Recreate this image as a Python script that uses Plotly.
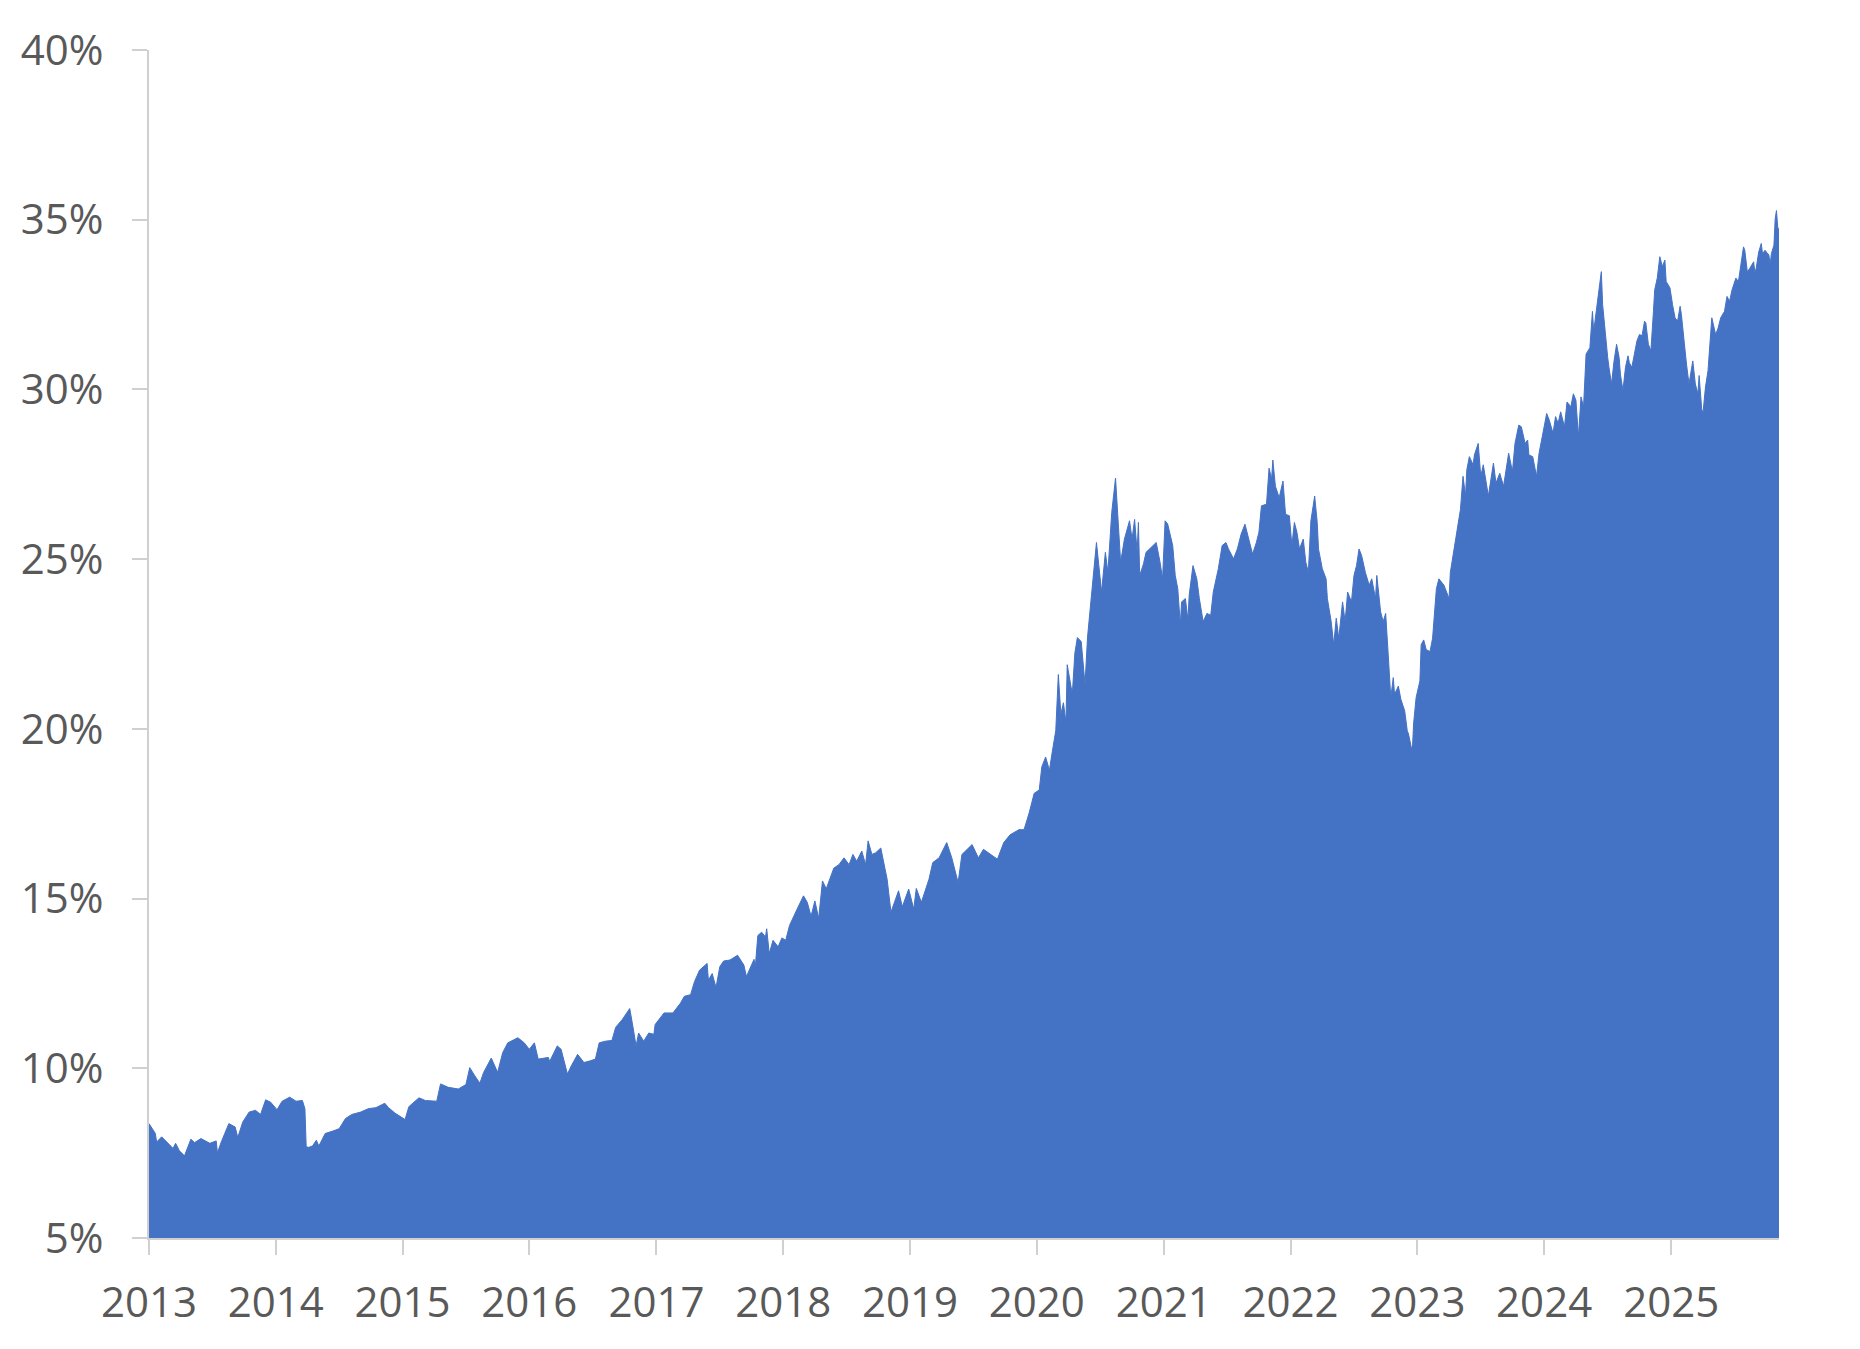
import pandas as pd
import plotly.graph_objects as go

# Share (%) over time (decimal years)
years = [
    2013.00, 2013.05, 2013.06, 2013.10, 2013.19, 2013.21, 2013.24, 2013.28, 2013.33, 2013.36,
    2013.41, 2013.48, 2013.53, 2013.54, 2013.57, 2013.63, 2013.68, 2013.70, 2013.74, 2013.79,
    2013.84, 2013.88, 2013.92, 2013.96, 2014.01, 2014.05, 2014.11, 2014.16, 2014.21, 2014.23,
    2014.24, 2014.26, 2014.29, 2014.32, 2014.34, 2014.39, 2014.45, 2014.50, 2014.55, 2014.60,
    2014.67, 2014.73, 2014.79, 2014.86, 2014.89, 2014.94, 2015.02, 2015.05, 2015.13, 2015.18,
    2015.27, 2015.30, 2015.36, 2015.44, 2015.50, 2015.53, 2015.57, 2015.61, 2015.64, 2015.70,
    2015.75, 2015.79, 2015.83, 2015.91, 2015.96, 2016.00, 2016.04, 2016.07, 2016.15, 2016.16,
    2016.22, 2016.25, 2016.30, 2016.33, 2016.38, 2016.43, 2016.48, 2016.52, 2016.55, 2016.60,
    2016.65, 2016.68, 2016.73, 2016.79, 2016.81, 2016.84, 2016.86, 2016.90, 2016.94, 2016.98,
    2016.99, 2017.06, 2017.13, 2017.19, 2017.22, 2017.27, 2017.30, 2017.34, 2017.40, 2017.41,
    2017.44, 2017.47, 2017.50, 2017.53, 2017.58, 2017.64, 2017.69, 2017.71, 2017.77, 2017.78,
    2017.80, 2017.83, 2017.86, 2017.87, 2017.89, 2017.92, 2017.96, 2017.99, 2018.02, 2018.05,
    2018.11, 2018.16, 2018.19, 2018.22, 2018.25, 2018.28, 2018.31, 2018.34, 2018.37, 2018.40,
    2018.44, 2018.48, 2018.52, 2018.55, 2018.58, 2018.62, 2018.65, 2018.67, 2018.70, 2018.73,
    2018.77, 2018.82, 2018.85, 2018.91, 2018.94, 2018.99, 2019.03, 2019.05, 2019.09, 2019.15,
    2019.18, 2019.23, 2019.29, 2019.33, 2019.38, 2019.41, 2019.49, 2019.54, 2019.58, 2019.64,
    2019.69, 2019.74, 2019.79, 2019.86, 2019.90, 2019.94, 2019.98, 2020.02, 2020.04, 2020.07,
    2020.10, 2020.12, 2020.15, 2020.17, 2020.19, 2020.21, 2020.23, 2020.24, 2020.28, 2020.30,
    2020.32, 2020.35, 2020.38, 2020.40, 2020.43, 2020.47, 2020.51, 2020.54, 2020.56, 2020.59,
    2020.62, 2020.64, 2020.66, 2020.69, 2020.73, 2020.75, 2020.77, 2020.79, 2020.80, 2020.81,
    2020.84, 2020.86, 2020.91, 2020.94, 2020.97, 2020.99, 2021.01, 2021.03, 2021.07, 2021.09,
    2021.11, 2021.13, 2021.14, 2021.17, 2021.19, 2021.20, 2021.23, 2021.26, 2021.28, 2021.31,
    2021.34, 2021.37, 2021.39, 2021.43, 2021.46, 2021.49, 2021.51, 2021.55, 2021.58, 2021.61,
    2021.64, 2021.66, 2021.70, 2021.73, 2021.75, 2021.77, 2021.81, 2021.83, 2021.85, 2021.86,
    2021.88, 2021.91, 2021.94, 2021.96, 2021.99, 2022.01, 2022.03, 2022.05, 2022.07, 2022.10,
    2022.12, 2022.14, 2022.16, 2022.19, 2022.21, 2022.22, 2022.25, 2022.28, 2022.29, 2022.32,
    2022.34, 2022.36, 2022.38, 2022.41, 2022.43, 2022.45, 2022.48, 2022.50, 2022.52, 2022.54,
    2022.56, 2022.59, 2022.62, 2022.64, 2022.67, 2022.68, 2022.71, 2022.73, 2022.75, 2022.77,
    2022.79, 2022.81, 2022.82, 2022.85, 2022.87, 2022.90, 2022.92, 2022.93, 2022.96, 2022.97,
    2022.99, 2023.02, 2023.03, 2023.05, 2023.07, 2023.10, 2023.12, 2023.15, 2023.17, 2023.21,
    2023.25, 2023.26, 2023.28, 2023.31, 2023.34, 2023.36, 2023.38, 2023.39, 2023.41, 2023.44,
    2023.45, 2023.48, 2023.50, 2023.52, 2023.56, 2023.60, 2023.62, 2023.65, 2023.68, 2023.72,
    2023.75, 2023.77, 2023.80, 2023.82, 2023.85, 2023.87, 2023.88, 2023.91, 2023.94, 2023.96,
    2023.99, 2024.02, 2024.04, 2024.07, 2024.09, 2024.11, 2024.13, 2024.16, 2024.18, 2024.21,
    2024.23, 2024.25, 2024.27, 2024.29, 2024.31, 2024.32, 2024.33, 2024.36, 2024.38, 2024.39,
    2024.41, 2024.42, 2024.44, 2024.45, 2024.46, 2024.48, 2024.50, 2024.51, 2024.53, 2024.55,
    2024.57, 2024.59, 2024.60, 2024.62, 2024.64, 2024.66, 2024.67, 2024.69, 2024.71, 2024.73,
    2024.75, 2024.77, 2024.79, 2024.80, 2024.82, 2024.84, 2024.86, 2024.87, 2024.89, 2024.91,
    2024.93, 2024.95, 2024.96, 2024.99, 2025.01, 2025.03, 2025.05, 2025.07, 2025.08, 2025.10,
    2025.12, 2025.14, 2025.16, 2025.17, 2025.19, 2025.21, 2025.22, 2025.24, 2025.25, 2025.27,
    2025.29, 2025.31, 2025.32, 2025.35, 2025.37, 2025.39, 2025.42, 2025.44, 2025.46, 2025.48,
    2025.51, 2025.53, 2025.55, 2025.57, 2025.58, 2025.60, 2025.62, 2025.65, 2025.66, 2025.67,
    2025.69, 2025.71, 2025.72, 2025.74, 2025.75, 2025.77, 2025.78, 2025.79, 2025.81, 2025.82,
    2025.83, 2025.84, 2025.85,
]

share_pct = [
    8.37, 8.08, 7.83, 7.98, 7.64, 7.79, 7.57, 7.42, 7.91, 7.81,
    7.93, 7.79, 7.86, 7.51, 7.83, 8.37, 8.27, 7.96, 8.42, 8.71,
    8.76, 8.64, 9.07, 9.00, 8.78, 9.03, 9.15, 9.03, 9.05, 8.81,
    7.69, 7.67, 7.71, 7.88, 7.71, 8.08, 8.15, 8.22, 8.52, 8.64,
    8.71, 8.81, 8.84, 8.97, 8.84, 8.68, 8.49, 8.87, 9.13, 9.05,
    9.03, 9.54, 9.44, 9.39, 9.52, 10.02, 9.78, 9.56, 9.88, 10.30,
    9.88, 10.46, 10.75, 10.90, 10.75, 10.56, 10.75, 10.27, 10.32, 10.20,
    10.66, 10.56, 9.83, 10.07, 10.41, 10.17, 10.22, 10.27, 10.75, 10.80,
    10.82, 11.21, 11.43, 11.76, 11.34, 10.66, 11.04, 10.80, 11.04, 11.00,
    11.29, 11.63, 11.63, 11.92, 12.12, 12.17, 12.55, 12.89, 13.09, 12.60,
    12.79, 12.38, 12.99, 13.16, 13.19, 13.33, 13.04, 12.70, 13.21, 12.99,
    13.91, 14.01, 13.87, 14.11, 13.38, 13.77, 13.58, 13.84, 13.77, 14.21,
    14.69, 15.08, 14.89, 14.48, 14.93, 14.42, 15.52, 15.29, 15.60, 15.90,
    16.00, 16.20, 16.00, 16.30, 16.10, 16.40, 16.00, 16.70, 16.30, 16.35,
    16.49, 15.57, 14.60, 15.23, 14.76, 15.28, 14.69, 15.30, 14.89, 15.57,
    16.06, 16.20, 16.65, 16.20, 15.47, 16.30, 16.59, 16.20, 16.45, 16.30,
    16.16, 16.65, 16.88, 17.03, 17.03, 17.52, 18.10, 18.20, 18.88, 19.17,
    18.78, 19.27, 19.95, 21.60, 20.43, 20.77, 20.19, 21.89, 21.02, 22.23,
    22.69, 22.57, 21.31, 22.71, 23.84, 25.49, 24.03, 25.20, 24.61, 26.37,
    27.39, 26.17, 24.91, 25.59, 26.13, 25.59, 26.17, 25.20, 26.08, 24.52,
    24.86, 25.20, 25.40, 25.49, 24.91, 24.42, 26.13, 26.04, 25.40, 24.52,
    24.13, 23.06, 23.74, 23.84, 23.21, 23.94, 24.81, 24.42, 23.84, 23.16,
    23.40, 23.35, 24.03, 24.72, 25.40, 25.49, 25.30, 25.01, 25.30, 25.74,
    26.03, 25.74, 25.15, 25.49, 25.79, 26.57, 26.62, 27.68, 27.36, 27.92,
    27.15, 26.81, 27.30, 26.32, 26.28, 25.40, 26.08, 25.79, 25.30, 25.59,
    24.91, 24.61, 26.13, 26.86, 26.08, 25.30, 24.72, 24.42, 23.84, 23.16,
    22.48, 23.26, 22.67, 23.74, 23.16, 24.03, 23.74, 24.52, 24.81, 25.30,
    25.11, 24.61, 24.23, 24.42, 23.84, 24.52, 23.45, 23.16, 23.40, 22.19,
    20.92, 21.51, 21.02, 21.26, 20.87, 20.53, 19.95, 19.85, 19.31, 20.14,
    20.92, 21.41, 22.48, 22.62, 22.33, 22.28, 22.67, 24.13, 24.42, 24.23,
    23.84, 24.61, 25.11, 25.79, 26.47, 27.44, 26.86, 27.63, 28.02, 27.78,
    28.07, 28.41, 27.44, 27.78, 26.86, 27.83, 27.24, 27.53, 27.15, 28.12,
    27.58, 28.41, 28.95, 28.90, 28.41, 28.51, 28.07, 28.02, 27.44, 28.12,
    28.66, 29.29, 29.10, 28.71, 29.20, 29.00, 29.34, 28.90, 29.63, 29.49,
    29.87, 29.68, 28.61, 29.78, 29.49, 30.41, 31.04, 31.23, 32.30, 31.71,
    32.21, 32.60, 33.18, 33.47, 32.50, 31.62, 30.94, 30.65, 30.16, 30.84,
    31.33, 30.94, 30.45, 29.97, 30.65, 30.99, 30.79, 30.65, 31.09, 31.43,
    31.62, 31.58, 32.01, 31.96, 31.33, 31.14, 32.30, 32.94, 33.28, 33.91,
    33.62, 33.81, 33.18, 32.99, 32.50, 32.11, 32.01, 32.45, 32.21, 31.43,
    30.75, 30.16, 30.65, 30.84, 30.16, 29.87, 30.41, 29.43, 29.29, 30.07,
    30.55, 31.43, 32.11, 31.62, 31.81, 32.11, 32.30, 32.74, 32.60, 32.94,
    33.28, 33.18, 33.67, 34.20, 34.10, 33.47, 33.57, 33.76, 33.43, 33.57,
    34.05, 34.30, 34.00, 34.10, 34.05, 33.96, 33.67, 34.00, 34.25, 35.03,
    35.27, 34.78, 34.69,
]

tick_years = list(range(2013, 2026))
y_ticks = [5, 10, 15, 20, 25, 30, 35, 40]

FILL_COLOR = "#4472C4"
AXIS_COLOR = "#d0d0d0"
TEXT_COLOR = "#595959"


def to_date(y):
    start = pd.Timestamp(year=int(y), month=1, day=1)
    end = pd.Timestamp(year=int(y) + 1, month=1, day=1)
    return start + (end - start) * (y - int(y))


dates = [to_date(y) for y in years]

fig = go.Figure()
fig.add_trace(
    go.Scatter(
        x=dates, y=share_pct,
        mode="lines",
        line=dict(color=FILL_COLOR, width=1),
        fill="tozeroy",
        fillcolor=FILL_COLOR,
        hoverinfo="skip",
        showlegend=False,
    )
)

# page body adds an 8px margin, so the figure is sized to fit inside the window
fig.update_layout(
    width=1844, height=1333,
    paper_bgcolor="white",
    plot_bgcolor="white",
    font=dict(family="Open Sans, sans-serif", size=42, color=TEXT_COLOR),
    margin=dict(l=141, r=73, t=35, b=102),
    showlegend=False,
)

fig.update_xaxes(
    type="date",
    range=[pd.Timestamp("2013-01-01"), dates[-1]],
    tickvals=[pd.Timestamp(year=y, month=1, day=1) for y in tick_years],
    ticktext=[str(y) for y in tick_years],
    showgrid=False, zeroline=False,
    showline=True, linecolor=AXIS_COLOR, linewidth=2,
    ticks="outside", ticklen=15, tickwidth=2, tickcolor=AXIS_COLOR,
    ticklabelstandoff=12,
)
fig.update_yaxes(
    range=[5, 40],
    tickvals=y_ticks,
    ticktext=[f"{v}%" for v in y_ticks],
    showgrid=False, zeroline=False,
    showline=True, linecolor=AXIS_COLOR, linewidth=2,
    ticks="outside", ticklen=15, tickwidth=2, tickcolor=AXIS_COLOR,
    ticklabelstandoff=20,
)

fig.write_html("out.html")
